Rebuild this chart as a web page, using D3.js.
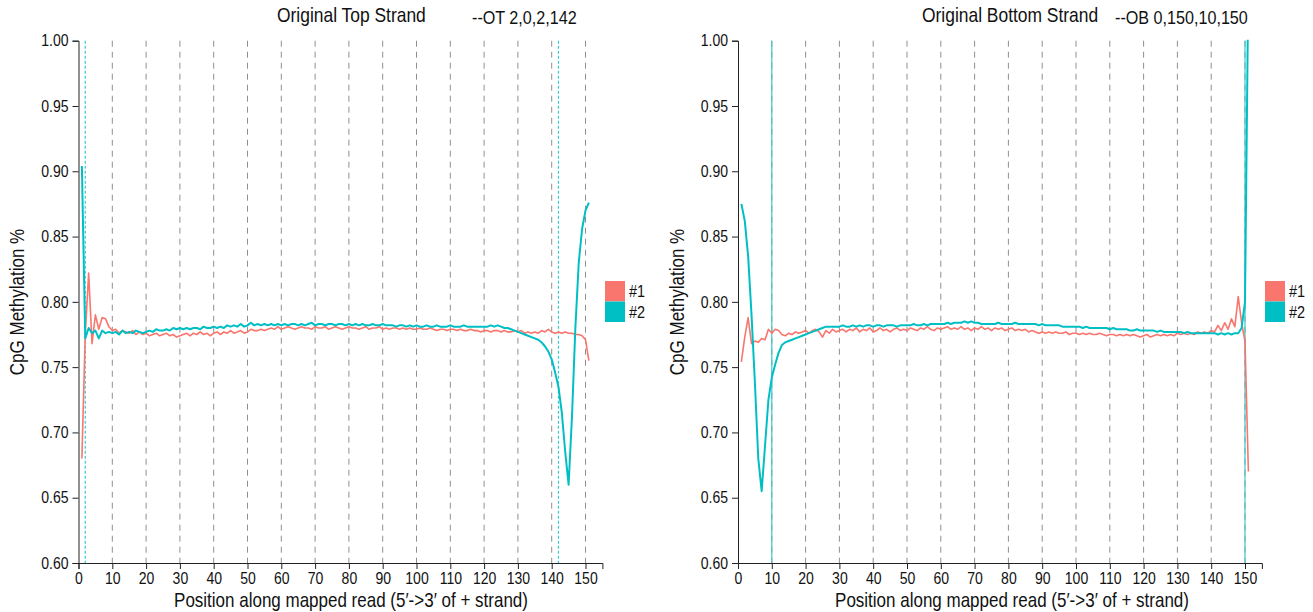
<!DOCTYPE html>
<html>
<head>
<meta charset="utf-8">
<script src="https://cdn.jsdelivr.net/npm/d3@7/dist/d3.min.js"></script>
<style>
  html, body { margin: 0; padding: 0; background: #fff; }
  svg { display: block; font-family: "Liberation Sans", Arial, sans-serif; }
</style>
</head>
<body>
<svg id="chart" width="1313" height="612"></svg>
<script>
// ---------- DATA ----------
const positions = d3.range(1, 152); // read positions 1..151
const xTicks = [0,10,20,30,40,50,60,70,80,90,100,110,120,130,140,150];
const yTicks = [0.60,0.65,0.70,0.75,0.80,0.85,0.90,0.95,1.00];
const gridPositions = [10,20,30,40,50,60,70,80,90,100,110,120,130,140,150];
const seriesNames = ["#1", "#2"];

// Original Top Strand (OT)
const otRed = [
0.680,0.775,0.822,0.768,0.790,0.779,0.788,0.787,0.781,0.778,
0.779,0.776,0.778,0.777,0.776,0.778,0.775,0.777,0.775,0.776,
0.774,0.775,0.776,0.774,0.775,0.776,0.774,0.775,0.773,0.774,
0.775,0.776,0.774,0.776,0.775,0.777,0.775,0.776,0.774,0.776,
0.777,0.775,0.777,0.776,0.778,0.776,0.777,0.778,0.776,0.777,
0.779,0.778,0.778,0.779,0.778,0.779,0.780,0.779,0.781,0.779,
0.780,0.781,0.780,0.779,0.780,0.781,0.780,0.780,0.779,0.781,
0.780,0.780,0.781,0.779,0.780,0.781,0.780,0.779,0.780,0.781,
0.780,0.780,0.779,0.780,0.781,0.779,0.780,0.780,0.781,0.779,
0.780,0.779,0.780,0.780,0.779,0.780,0.779,0.780,0.779,0.779,
0.780,0.779,0.779,0.780,0.779,0.778,0.779,0.779,0.778,0.779,
0.779,0.778,0.779,0.778,0.778,0.779,0.778,0.778,0.777,0.778,
0.778,0.777,0.778,0.778,0.777,0.778,0.777,0.777,0.778,0.777,
0.778,0.776,0.777,0.776,0.777,0.776,0.778,0.777,0.779,0.777,
0.776,0.777,0.776,0.777,0.776,0.776,0.775,0.775,0.774,0.771,
0.755];
const otCyan = [
0.904,0.772,0.780,0.776,0.778,0.772,0.778,0.776,0.777,0.776,
0.777,0.775,0.778,0.776,0.777,0.776,0.778,0.777,0.776,0.777,
0.778,0.777,0.779,0.778,0.778,0.779,0.778,0.780,0.779,0.780,
0.779,0.780,0.779,0.780,0.780,0.779,0.781,0.780,0.780,0.781,
0.780,0.781,0.780,0.782,0.781,0.782,0.781,0.783,0.781,0.782,
0.784,0.782,0.783,0.782,0.783,0.782,0.783,0.782,0.783,0.782,
0.783,0.782,0.783,0.783,0.782,0.783,0.782,0.783,0.784,0.782,
0.783,0.783,0.782,0.783,0.783,0.782,0.783,0.783,0.782,0.783,
0.782,0.783,0.782,0.783,0.782,0.782,0.783,0.782,0.782,0.783,
0.782,0.782,0.782,0.781,0.782,0.782,0.781,0.782,0.781,0.782,
0.781,0.781,0.782,0.781,0.781,0.782,0.781,0.781,0.781,0.782,
0.781,0.781,0.781,0.782,0.781,0.781,0.781,0.781,0.781,0.781,
0.781,0.782,0.781,0.782,0.781,0.780,0.780,0.779,0.778,0.777,
0.776,0.775,0.774,0.773,0.772,0.771,0.769,0.766,0.762,0.756,
0.746,0.735,0.715,0.685,0.660,0.712,0.780,0.830,0.856,0.870,
0.876];

// Original Bottom Strand (OB)
const obRed = [
0.754,0.773,0.788,0.768,0.770,0.769,0.772,0.771,0.779,0.776,
0.779,0.778,0.775,0.774,0.776,0.775,0.777,0.776,0.777,0.778,
0.776,0.778,0.779,0.777,0.773,0.778,0.776,0.779,0.777,0.778,
0.779,0.777,0.779,0.778,0.780,0.777,0.779,0.778,0.780,0.777,
0.778,0.780,0.778,0.779,0.777,0.779,0.780,0.778,0.779,0.778,
0.780,0.779,0.778,0.780,0.779,0.781,0.779,0.778,0.780,0.779,
0.780,0.781,0.779,0.780,0.779,0.781,0.779,0.780,0.778,0.780,
0.779,0.781,0.779,0.780,0.778,0.780,0.779,0.780,0.778,0.779,
0.780,0.778,0.779,0.778,0.779,0.777,0.778,0.777,0.776,0.777,
0.776,0.777,0.776,0.777,0.776,0.776,0.777,0.775,0.776,0.776,
0.775,0.776,0.775,0.776,0.775,0.775,0.776,0.775,0.774,0.775,
0.775,0.774,0.775,0.774,0.775,0.774,0.775,0.774,0.773,0.774,
0.775,0.773,0.774,0.775,0.774,0.775,0.774,0.775,0.774,0.776,
0.775,0.776,0.775,0.776,0.775,0.777,0.776,0.777,0.776,0.778,
0.777,0.782,0.778,0.784,0.779,0.787,0.781,0.804,0.784,0.770,
0.670];
const obCyan = [
0.875,0.862,0.835,0.790,0.738,0.680,0.655,0.690,0.725,0.742,
0.752,0.761,0.767,0.769,0.770,0.771,0.772,0.773,0.774,0.775,
0.776,0.777,0.778,0.779,0.780,0.781,0.781,0.781,0.781,0.781,
0.782,0.781,0.781,0.782,0.781,0.782,0.781,0.782,0.782,0.781,
0.782,0.782,0.781,0.782,0.782,0.782,0.781,0.782,0.782,0.782,
0.782,0.783,0.782,0.782,0.783,0.782,0.783,0.783,0.783,0.783,
0.783,0.784,0.783,0.784,0.784,0.784,0.785,0.784,0.785,0.784,
0.784,0.783,0.783,0.783,0.783,0.783,0.784,0.783,0.783,0.783,
0.783,0.784,0.783,0.783,0.783,0.783,0.783,0.783,0.782,0.783,
0.782,0.782,0.782,0.782,0.782,0.781,0.781,0.781,0.781,0.781,
0.781,0.780,0.781,0.780,0.780,0.780,0.780,0.780,0.780,0.779,
0.780,0.779,0.779,0.779,0.779,0.778,0.778,0.779,0.778,0.778,
0.778,0.778,0.778,0.777,0.778,0.777,0.777,0.777,0.777,0.777,
0.777,0.776,0.777,0.776,0.776,0.776,0.776,0.776,0.776,0.776,
0.776,0.775,0.776,0.775,0.776,0.775,0.776,0.776,0.780,0.800,
1.050];

const otMarks = [2, 142];
const obMarks = [10, 150];

const colors = ["#F8766D", "#00BFC4"];

// ---------- LAYOUT ----------
const svg = d3.select("#chart");
const yTop = 40.7, yBottom = 563;
const SQ = 0.85; // narrow-font horizontal condensation

function narrowText(sel, x, y, size, txt, anchor, rotate) {
  const t = sel.append("text")
    .attr("transform", `translate(${x},${y})` + (rotate ? " rotate(-90)" : "") + ` scale(${SQ},1)`)
    .attr("font-size", size).attr("fill", "#111")
    .attr("text-anchor", anchor || "start").text(txt);
  return t;
}

const panels = [
  { key: "ot", title: "Original Top Strand", sub: "--OT 2,0,2,142", titleX: 277, subX: 472,
    left: 78.5, right: 602.4, red: otRed, cyan: otCyan, marks: otMarks, markDash: "3,2",
    legendX: 605, yLabelX: 24, xLabelX: 351 },
  { key: "ob", title: "Original Bottom Strand", sub: "--OB 0,150,10,150", titleX: 922, subX: 1115,
    left: 738, right: 1261.9, red: obRed, cyan: obCyan, marks: obMarks, markDash: null,
    legendX: 1265, yLabelX: 684, xLabelX: 1012 }
];

const y = d3.scaleLinear().domain([0.6, 1.0]).range([yBottom, yTop]);

panels.forEach(p => {
  const x = d3.scaleLinear().domain([0, 155]).range([p.left, p.right]);
  const g = svg.append("g");

  g.append("clipPath").attr("id", "clip-" + p.key)
    .append("rect").attr("x", p.left).attr("y", yTop - 1)
    .attr("width", p.right - p.left).attr("height", yBottom - yTop + 1);

  // grid lines
  g.append("g").selectAll("line").data(gridPositions).join("line")
    .attr("x1", d => x(d)).attr("x2", d => x(d))
    .attr("y1", yTop).attr("y2", yBottom)
    .attr("stroke", "#8f8f8f").attr("stroke-width", 1)
    .attr("stroke-dasharray", "6,5");

  // marker lines
  g.append("g").selectAll("line").data(p.marks).join("line")
    .attr("x1", d => x(d)).attr("x2", d => x(d))
    .attr("y1", yTop).attr("y2", yBottom)
    .attr("stroke", "#3cc9cc").attr("stroke-width", 1.2)
    .attr("stroke-dasharray", p.markDash);

  // lines
  const line = d3.line().x((d, i) => x(positions[i])).y(d => y(d));
  const dg = g.append("g").attr("clip-path", "url(#clip-" + p.key + ")");
  dg.append("path").datum(p.red).attr("d", line)
    .attr("fill", "none").attr("stroke", colors[0]).attr("stroke-width", 1.6)
    .attr("stroke-linejoin", "round");
  dg.append("path").datum(p.cyan).attr("d", line)
    .attr("fill", "none").attr("stroke", colors[1]).attr("stroke-width", 2)
    .attr("stroke-linejoin", "round");

  // axes
  const xAxis = d3.axisBottom(x).tickValues(xTicks).tickFormat(d3.format("d")).tickSizeOuter(6);
  const gx = g.append("g").attr("transform", `translate(0,${yBottom})`).call(xAxis);
  const yAxis = d3.axisLeft(y).tickValues(yTicks).tickFormat(d3.format(".2f")).tickSizeOuter(6);
  const gy = g.append("g").attr("transform", `translate(${p.left},0)`).call(yAxis);
  [gx, gy].forEach(a => {
    a.selectAll("text").attr("font-size", 16.5).attr("fill", "#111")
      .attr("font-family", "Liberation Sans, Arial, sans-serif")
      .attr("transform", `scale(${SQ},1)`);
    a.selectAll("path,line").attr("stroke", "#222");
  });
  gy.selectAll(".tick text").attr("x", -10 / SQ);

  // titles
  narrowText(g, p.titleX, 22, 20.5, p.title);
  narrowText(g, p.subX, 24, 19, p.sub);

  // axis labels
  narrowText(g, p.xLabelX, 607, 20, "Position along mapped read (5\u2032->3\u2032 of + strand)", "middle");
  narrowText(g, p.yLabelX, 302, 20, "CpG Methylation %", "middle", true);

  // legend
  const lg = g.append("g");
  seriesNames.forEach((n, i) => {
    lg.append("rect").attr("x", p.legendX).attr("y", 281 + i * 20.5)
      .attr("width", 20).attr("height", 20.5).attr("fill", colors[i]);
    narrowText(lg, p.legendX + 24, 281 + i * 20.5 + 16, 17, n);
  });
});
</script>
</body>
</html>
